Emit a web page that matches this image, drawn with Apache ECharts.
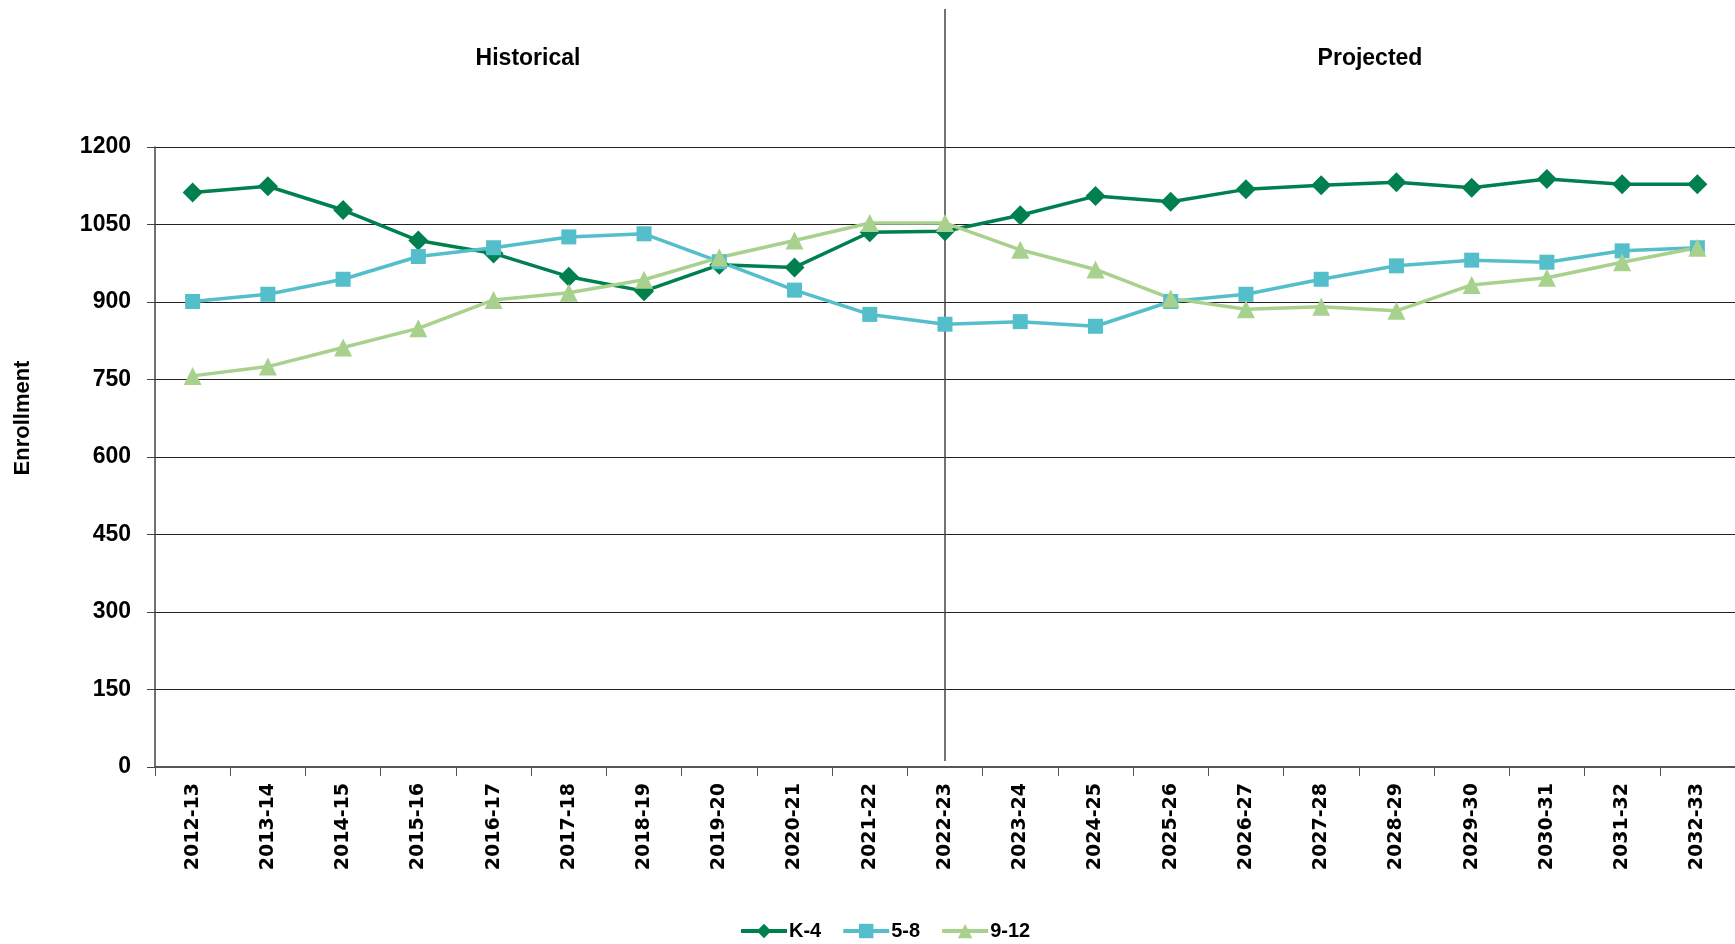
<!DOCTYPE html>
<html>
<head>
<meta charset="utf-8">
<script src="https://cdn.jsdelivr.net/npm/echarts@6/dist/echarts.min.js"></script>
<style>
html,body{margin:0;padding:0;background:#fff;}
#chart{width:1735px;height:944px;}
</style>
</head>
<body>
<div id="chart"></div>
<script>
const categories = ['2012-13','2013-14','2014-15','2015-16','2016-17','2017-18','2018-19','2019-20','2020-21','2021-22','2022-23','2023-24','2024-25','2025-26','2026-27','2027-28','2028-29','2029-30','2030-31','2031-32','2032-33'];
const k4 =   [1112,1124,1078,1019,994,949,921,972,967,1035,1037,1068,1105,1094,1118,1126,1132,1121,1138,1128,1128];
const g58 =  [901,915,944,988,1005,1026,1032,978,923,876,857,862,853,901,915,944,970,981,977,999,1005];
const g912 = [757,775,812,849,904,918,943,986,1019,1053,1053,1001,963,907,886,891,883,933,947,977,1005];
const yTicks = [0,150,300,450,600,750,900,1050,1200];
const dividerCategory = '2022-23';
const sectionTitles = ['Historical','Projected'];

const TXT = 'Liberation Sans, Arial, sans-serif';
const chart = echarts.init(document.getElementById('chart'));

function mk(name, data, color, symbol, size){
  return {
    name, type:'line', data, color,
    symbol, symbolSize:size, showSymbol:true,
    lineStyle:{width:3.5,color},
    itemStyle:{color},
    emphasis:{disabled:true},
    animation:false
  };
}

chart.setOption({
  animation:false,
  grid:{left:155,width:1587,top:147,bottom:177,containLabel:false},
  xAxis:{
    type:'category', data:categories, boundaryGap:true,
    axisLine:{lineStyle:{color:'#555',width:2}},
    axisTick:{show:true,alignWithLabel:false,length:9,lineStyle:{color:'#555',width:1}},
    axisLabel:{rotate:90,margin:16,fontFamily:'DejaVu Sans, sans-serif',fontWeight:'bold',fontSize:19,color:'#000',interval:0}
  },
  yAxis:{
    type:'value', min:yTicks[0], max:yTicks[yTicks.length-1], interval:yTicks[1]-yTicks[0],
    axisLine:{show:true,lineStyle:{color:'#444',width:1.5}},
    axisTick:{show:true,length:8,lineStyle:{color:'#444'}},
    axisLabel:{margin:24,fontFamily:TXT,fontWeight:'bold',fontSize:23,color:'#000',formatter:v=>String(v)},
    splitLine:{lineStyle:{color:'#222',width:1}}
  },
  legend:{
    data:['K-4','5-8','9-12'],
    left:734, top:916,
    itemWidth:46, itemHeight:18, itemGap:20,
    lineStyle:{width:4},
    textStyle:{fontFamily:TXT,fontWeight:'bold',fontSize:20,color:'#000',padding:[0,0,0,-3]}
  },
  series:[
    mk('K-4',k4,'#007F4F','diamond',20),
    mk('5-8',g58,'#55BECB','rect',15),
    mk('9-12',g912,'#A9D18E','triangle',18)
  ]
});

const dx = chart.convertToPixel({xAxisIndex:0}, dividerCategory);
const yBottom = chart.convertToPixel({yAxisIndex:0}, 0);
chart.setOption({
  graphic:[
    {type:'line',shape:{x1:dx,y1:9,x2:dx,y2:yBottom-6},style:{stroke:'#444',lineWidth:1.5},z:1},
    {type:'text',x:528,y:59,style:{text:sectionTitles[0],font:'bold 23px '+TXT,fill:'#000',textAlign:'center',textVerticalAlign:'middle'}},
    {type:'text',x:1370,y:59,style:{text:sectionTitles[1],font:'bold 23px '+TXT,fill:'#000',textAlign:'center',textVerticalAlign:'middle'}},
    {type:'text',x:23,y:418,rotation:Math.PI/2,style:{text:'Enrollment',font:'bold 22px '+TXT,fill:'#000',textAlign:'center',textVerticalAlign:'middle'}}
  ]
});
</script>
</body>
</html>
